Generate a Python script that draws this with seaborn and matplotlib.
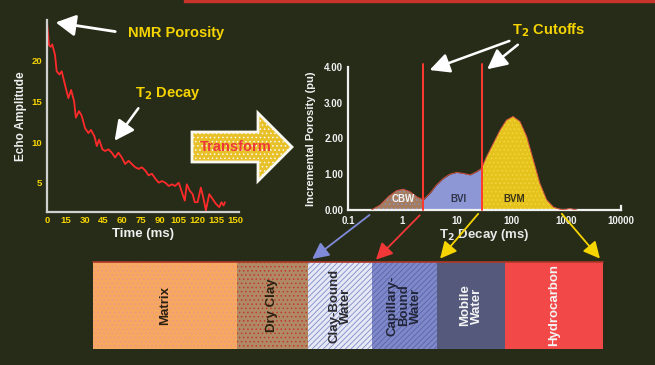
import numpy as np
import matplotlib
matplotlib.use("Agg")
import matplotlib.pyplot as plt
from matplotlib.patches import Polygon, Rectangle
import seaborn as sns

# ---------------- data ----------------
time_ms = [0, 1.6, 2.9, 4.2, 6.4, 7.7, 9.9, 11.7, 14.4, 17, 19.2, 21.6, 23, 25.5, 27.7,
           30.3, 33, 35, 37.8, 39.7, 41.5, 44.2, 46.3, 49, 51.6, 54.3, 56.9, 59.6, 62.3,
           65, 67.6, 70.3, 73, 75.6, 78.3, 81, 83.6, 86.3, 89, 91.6, 94.3, 97, 99.6, 102,
           105, 108, 109.8, 111.4, 113.8, 116, 117.8, 120, 122.6, 124.5, 126.6, 129.3,
           132, 134.6, 137.3, 139, 140.7, 141.8]
echo_amp = [24.7, 21.9, 21.7, 22.0, 20.7, 18.7, 18.3, 18.7, 17.0, 15.4, 16.4, 15.0, 13.0,
            13.8, 13.2, 11.7, 11.1, 11.5, 10.7, 9.5, 10.3, 9.1, 8.9, 9.1, 8.7, 8.1, 8.7,
            8.1, 7.3, 7.7, 7.3, 6.9, 6.7, 6.9, 6.5, 5.9, 6.1, 5.5, 5.0, 5.2, 5.0, 4.6, 4.8,
            4.6, 5.0, 3.6, 2.8, 4.8, 4.0, 3.6, 2.6, 2.6, 4.4, 3.2, 1.6, 3.6, 3.0, 2.4, 2.0,
            2.6, 2.2, 2.6]

t2_ms = [0.27, 0.39, 0.55, 0.78, 1.03, 1.37, 1.82, 2.4, 3.2, 4.2, 5.6, 7.4, 9.9, 13.1,
         17.4, 22.9, 28.2, 35, 46.5, 61.7, 81, 107, 143, 190, 251, 331, 443, 589, 776,
         933, 1175, 1585]
inc_porosity = [0.0, 0.14, 0.37, 0.54, 0.58, 0.51, 0.37, 0.28, 0.47, 0.70, 0.88, 1.0,
                1.05, 1.02, 0.98, 1.07, 1.16, 1.49, 1.86, 2.23, 2.51, 2.61, 2.47, 2.05,
                1.40, 0.75, 0.28, 0.08, 0.02, 0.01, 0.04, 0.0]
cutoffs_ms = [2.4, 28.2]
region_labels = ["CBW", "BVI", "BVM"]
region_label_x = [1.05, 10.5, 110]

time_ticks = [0, 15, 30, 45, 60, 75, 90, 105, 120, 135, 150]
amp_ticks = [5, 10, 15, 20]
por_ticks = [0.0, 1.0, 2.0, 3.0, 4.0]
t2_ticks = [0.1, 1, 10, 100, 1000, 10000]
t2_ticklabels = ["0.1", "1", "10", "100", "1000", "10000"]

components = ["Matrix", "Dry Clay", "Clay-Bound\nWater", "Capillary-\nBound\nWater",
              "Mobile\nWater", "Hydrocarbon"]
component_widths = [144, 71, 64, 65, 68, 98]

# ---------------- style ----------------
BG = "#272c19"
YEL = "#f6d400"
sns.set_theme(style="dark", rc={
    "figure.facecolor": BG, "axes.facecolor": BG, "savefig.facecolor": BG,
    "axes.grid": False, "hatch.linewidth": 0.6,
})
plt.rcParams["font.family"] = ["Liberation Sans", "DejaVu Sans"]
plt.rcParams["font.weight"] = "bold"

W, H = 655, 365
fig = plt.figure(figsize=(W / 100, H / 100), dpi=100)


def fx(px):
    return px / W


def fy(py):
    return 1 - py / H


def rect(x0, y0, x1, y1):
    return [fx(x0), fy(y1), fx(x1) - fx(x0), fy(y0) - fy(y1)]


# top thin red strip
fig.patches.append(Rectangle((fx(184), fy(2)), 1 - fx(184), 2 / H, transform=fig.transFigure,
                             color="#c8342a", zorder=0))

# ---------------- left: echo decay ----------------
ax1 = fig.add_axes(rect(47, 20, 239, 212))
sns.lineplot(x=time_ms, y=echo_amp, ax=ax1, color="#ff2a2a", lw=1.3)
ax1.set_xlim(0, 153)
ax1.set_ylim(1.4, 25)
ax1.set_xticks(time_ticks)
ax1.set_yticks(amp_ticks)
ax1.set_yticks(np.arange(2, 25, 1), minor=True)
ax1.tick_params(axis="both", which="both", direction="in", colors="#c8c8c8",
                labelcolor=YEL, labelsize=6.8, width=1.2)
ax1.tick_params(axis="x", length=7, pad=3)
ax1.tick_params(axis="y", which="major", length=5)
ax1.tick_params(axis="y", which="minor", length=4)
for s in ["top", "right"]:
    ax1.spines[s].set_visible(False)
for s in ["left", "bottom"]:
    ax1.spines[s].set_color("#d0d0d0")
    ax1.spines[s].set_linewidth(1.6)
for lab in ax1.get_xticklabels() + ax1.get_yticklabels():
    lab.set_fontweight("bold")
ax1.set_xlabel("Time (ms)", color="#f0f0f0", fontsize=9.5, fontweight="bold", labelpad=2)
ax1.set_ylabel("Echo Amplitude", color="#f0f0f0", fontsize=8.5, fontweight="bold", labelpad=3)

# ---------------- right: T2 distribution ----------------
ax2 = fig.add_axes(rect(348, 66.7, 620.5, 210))
t2 = np.array(t2_ms)
por = np.array(inc_porosity)
c1, c2 = cutoffs_ms
m1 = t2 <= c1
m2 = (t2 >= c1) & (t2 <= c2)
m3 = t2 >= c2
ax2.fill_between(t2[m1], 0, por[m1], color="#a67c5c", hatch="....", edgecolor="#8a90c0",
                 lw=0, zorder=2)
ax2.fill_between(t2[m2], 0, por[m2], color="#8d97d6", lw=0, zorder=2)
ax2.fill_between(t2[m3], 0, por[m3], color="#e6c21c", hatch="....", edgecolor="#f0d840",
                 lw=0, zorder=2)
sns.lineplot(x=t2_ms, y=inc_porosity, ax=ax2, color="#d05040", lw=0.7, zorder=3)
ax2.set_xscale("log")
ax2.set_xlim(0.1, 10000)
ax2.set_ylim(0, 4.0)
for c in cutoffs_ms:
    ax2.plot([c, c], [0, 4.08], color="#ff3a30", lw=1.4, clip_on=False, zorder=4)
for lab, xx, col in zip(region_labels, region_label_x, ["#f4f4f4", "#30344a", "#3a3418"]):
    ax2.text(xx, 0.3, lab, ha="center", va="center", fontsize=7, fontweight="bold",
             color=col, zorder=5)
ax2.set_xticks(t2_ticks)
ax2.set_xticklabels(t2_ticklabels)
ax2.xaxis.set_minor_locator(matplotlib.ticker.NullLocator())
ax2.set_yticks(por_ticks)
ax2.set_yticklabels([f"{v:.2f}" for v in por_ticks])
ax2.set_yticks(np.arange(0.5, 4.0, 1.0), minor=True)
ax2.tick_params(axis="both", which="both", direction="in", colors="#f0f0f0",
                labelcolor="#f0f0f0", labelsize=7, width=1.2, length=5)
ax2.tick_params(axis="x", pad=4)
ax2.spines["top"].set_visible(False)
for s in ["left", "bottom", "right"]:
    ax2.spines[s].set_color("#f0f0f0")
    ax2.spines[s].set_linewidth(1.6)
ax2.spines["right"].set_bounds(0, 0.12)
for lab in ax2.get_xticklabels() + ax2.get_yticklabels():
    lab.set_fontweight("bold")
ax2.set_xlabel("T$_2$ Decay (ms)", color="#e8e8e8", fontsize=9.5, fontweight="bold", labelpad=1)
ax2.set_ylabel("Incremental Porosity (pu)", color="#f0f0f0", fontsize=8,
               fontweight="bold", labelpad=6)

# ---------------- bottom: rock components ----------------
ax3 = fig.add_axes(rect(93, 262, 603, 349))
lefts = np.concatenate([[0], np.cumsum(component_widths)[:-1]])
face = ["#f5a860", "#b08a64", "#e6e8f4", "#7f88c8", "#555a7c", "#f24848"]
hatches = ["....", "....", "//////", "//////", None, None]
hcol = ["#f49488", "#c03a30", "#7f8ccc", "#5a64a8", "#555a7c", "#f24848"]
txtcol = ["#2a2010", "#2a2010", "#2a2a30", "#22263a", "#f4f4f4", "#f4f4f4"]
ax3.barh(0, component_widths, left=lefts, height=1.0, color=face, hatch=hatches,
         edgecolor=hcol, lw=0.0)
for l, w, name, tc in zip(lefts, component_widths, components, txtcol):
    ax3.text(l + w / 2, 0, name, rotation=90, ha="center", va="center", fontsize=9.5,
             fontweight="bold", color=tc, linespacing=0.95)
ax3.set_xlim(0, sum(component_widths))
ax3.set_ylim(-0.5, 0.5)
ax3.set_axis_off()
ax3.plot([0, sum(component_widths)], [0.5, 0.5], color="#b03828", lw=1.2, clip_on=False)


# ---------------- annotations ----------------
def arrow(x0, y0, x1, y1, color, lw=1.5, hw=0.5, hl=0.9):
    fig.add_artist(matplotlib.patches.FancyArrowPatch(
        (fx(x0), fy(y0)), (fx(x1), fy(y1)), transform=fig.transFigure,
        arrowstyle=f"-|>,head_length={hl * 5},head_width={hw * 5}",
        mutation_scale=1.0, color=color, lw=lw, zorder=10))


fig.text(fx(128), fy(33), "NMR Porosity", color=YEL, fontsize=10.5, fontweight="bold",
         ha="left", va="center")
arrow(118, 32, 53, 22, "white", lw=2.0, hw=1.3, hl=2.4)

fig.text(fx(168), fy(93), "T$_2$ Decay", color=YEL, fontsize=10.5, fontweight="bold",
         ha="center", va="center")
arrow(140, 106, 113, 143, "white", lw=1.8, hw=1.2, hl=2.4)

fig.text(fx(549), fy(30), "T$_2$ Cutoffs", color=YEL, fontsize=10.5, fontweight="bold",
         ha="center", va="center")
arrow(512, 40, 427, 71, "white", lw=1.8, hw=1.2, hl=2.4)
arrow(520, 43, 485, 71, "white", lw=1.8, hw=1.2, hl=2.4)

# connector arrows to components
arrow(371.7, 213.3, 310, 260.7, "#7f8ad8", lw=1.3, hw=1.0, hl=2.0)
arrow(421.7, 213.3, 374, 261.7, "#f03838", lw=1.3, hw=1.0, hl=2.0)
arrow(480, 211.7, 438.3, 260.7, "#f6d400", lw=1.3, hw=1.0, hl=2.0)
arrow(560, 211.7, 601.7, 260.7, "#f6d400", lw=1.3, hw=1.0, hl=2.0)

# Transform arrow
pts = [(192, 132), (258, 132), (258, 113), (292, 147), (258, 181), (258, 162), (192, 162)]
fig.patches.append(Polygon([(fx(x), fy(y)) for x, y in pts], closed=True,
                           transform=fig.transFigure, facecolor="#e8c028",
                           edgecolor="#f8f8f0", lw=2.0, hatch="....", zorder=5))
fig.text(fx(236), fy(147), "Transform", color="#ee3838", fontsize=10.5, fontweight="bold",
         ha="center", va="center", zorder=6)

fig.savefig("out.png", dpi=100, facecolor=BG)
